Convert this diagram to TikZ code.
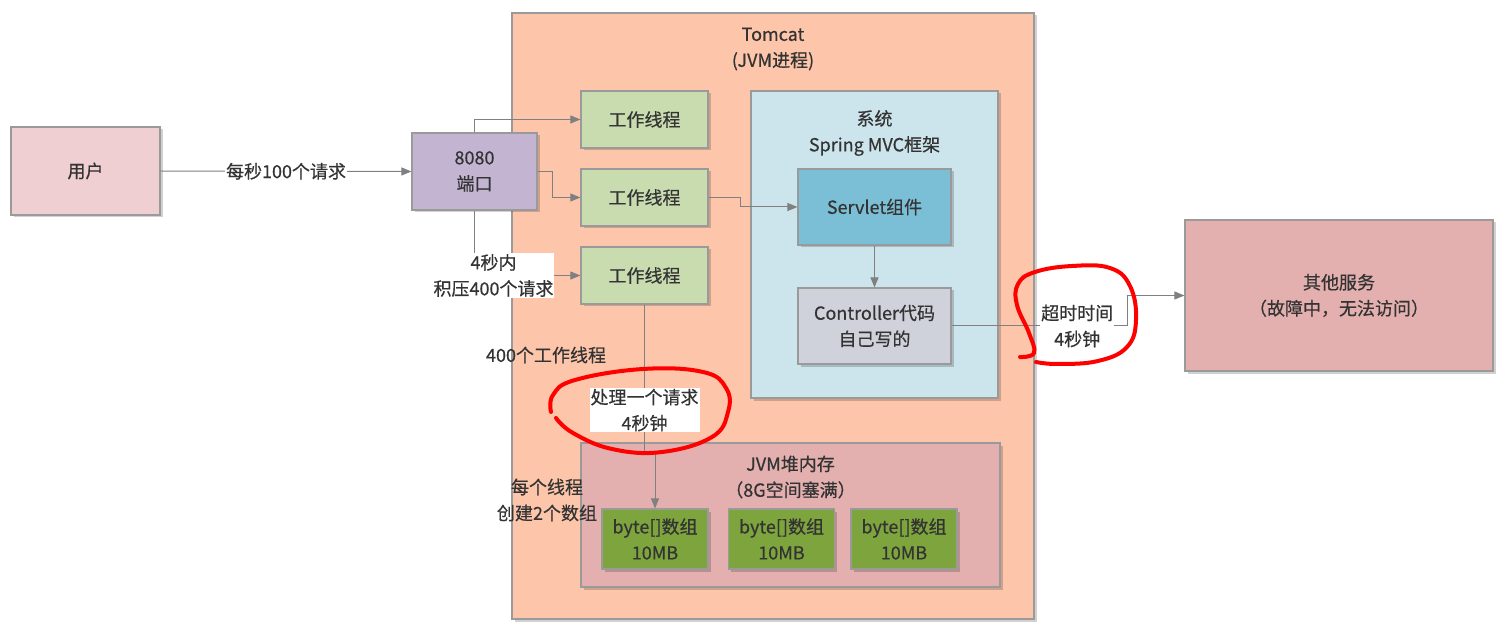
\documentclass[tikz,border=0pt]{standalone}
\usepackage{fontspec}
\newfontfamily\cjk[FakeBold=0.5]{Noto Sans CJK SC}
\usetikzlibrary{arrows.meta,shadows}
\definecolor{tomcatc}{HTML}{FDC5A9}
\definecolor{userc}{HTML}{EFCFD1}
\definecolor{portc}{HTML}{C3B5D1}
\definecolor{workc}{HTML}{C8DCB0}
\definecolor{sysc}{HTML}{CCE4EC}
\definecolor{servc}{HTML}{7BBFD6}
\definecolor{ctrlc}{HTML}{CFD2DA}
\definecolor{otherc}{HTML}{E4AFAF}
\definecolor{heapc}{HTML}{E3B0AF}
\definecolor{bytec}{HTML}{7EA53D}
\definecolor{borderc}{HTML}{9A9A9A}
\definecolor{linec}{HTML}{808080}
\definecolor{txtc}{HTML}{333333}
\tikzset{
  box/.style={draw=borderc, line width=1.2pt, rectangle, inner sep=0pt, align=center,
    text=txtc, font=\cjk\fontsize{18}{26}\selectfont,
    drop shadow={shadow xshift=2.5pt, shadow yshift=-2.5pt, opacity=0.18, fill=black}},
  txt/.style={text=txtc, align=center, inner sep=1pt, font=\cjk\fontsize{18}{26}\selectfont},
  lbl/.style={txt, fill=white},
  arr/.style={draw=linec, line width=1pt, -{Triangle[length=10pt,width=8pt]}},
  red/.style={draw=red, line width=4pt, line cap=round, line join=round}
}
\begin{document}
\begin{tikzpicture}[x=1pt,y=-1pt]
\useasboundingbox (0,0) rectangle (1505,628);
% containers
\node[box, fill=tomcatc, minimum width=522pt, minimum height=606pt] (tomcat) at (773,316) {};
\node[txt] (tomcattitle) at (773,49) {Tomcat\\(JVM进程)};
\node[box, fill=sysc, minimum width=247pt, minimum height=307pt] (sys) at (874.5,244.5) {};
\node[txt] (systitle) at (874.5,133) {系统\\Spring MVC框架};
\node[box, fill=heapc, minimum width=419pt, minimum height=144pt] (heap) at (790.5,515) {};
\node[txt] (heaptitle) at (790.5,477) {JVM堆内存\\（8G空间塞满）};
% nodes
\node[box, fill=userc, minimum width=149pt, minimum height=88pt] (user) at (85.5,171) {用户};
\node[box, fill=portc, minimum width=125pt, minimum height=77pt] (port) at (474.5,171.5) {8080\\端口};
\node[box, fill=workc, minimum width=127pt, minimum height=57pt] (w1) at (644.5,119.5) {工作线程};
\node[box, fill=workc, minimum width=127pt, minimum height=57pt] (w2) at (644.5,197.5) {工作线程};
\node[box, fill=workc, minimum width=127pt, minimum height=57pt] (w3) at (644.5,275.5) {工作线程};
\node[box, fill=servc, minimum width=153pt, minimum height=76pt] (servlet) at (874.5,207) {Servlet组件};
\node[box, fill=ctrlc, minimum width=153pt, minimum height=76pt] (ctrl) at (874.5,326) {Controller代码\\自己写的};
\node[box, fill=otherc, minimum width=308pt, minimum height=151pt] (other) at (1339,295.5) {其他服务\\（故障中，无法访问）};
\node[box, fill=bytec, minimum width=106pt, minimum height=60pt] (b1) at (655,539) {byte[]数组\\10MB};
\node[box, fill=bytec, minimum width=106pt, minimum height=60pt] (b2) at (781.5,539) {byte[]数组\\10MB};
\node[box, fill=bytec, minimum width=106pt, minimum height=60pt] (b3) at (904,539) {byte[]数组\\10MB};
% connectors
\draw[arr] (user.east) -- node[lbl] {每秒100个请求} (port.west);
\draw[arr] (port.north) |- (w1.west);
\draw[arr] (port.east) -- ++(15,0) |- (w2.west);
\draw[arr] (port.south) |- node[lbl, pos=0.5, xshift=19pt] {4秒内\\积压400个请求} (w3.west);
\draw[arr] (w2.east) -- ++(32,0) |- (servlet.west);
\draw[arr] (servlet.south) -- (ctrl.north);
\coordinate (tcorner) at (1127,326);
\draw[arr] (ctrl.east) -- node[lbl, pos=0.716] {超时时间\\4秒钟} (tcorner) |- (other.west);
\coordinate (wjog) at (644.5,452);
\draw[arr] (w3.south) -- node[lbl, pos=0.716] {处理一个请求\\4秒钟} (wjog) -| (b1.north);
% annotations
\node[txt] (n400) at (546,355) {400个工作线程};
\node[txt] (nper) at (547,500) {每个线程\\创建2个数组};
% red hand-drawn marks
\draw[red] plot[smooth, tension=0.7] coordinates {(551,412) (553,395) (575,380) (643,369) (703,372) (726,388) (728,412) (712,437) (662,452) (612,449) (573,433) (556,418)};
\draw[red] plot[smooth, tension=0.7] coordinates {(1020,357) (1034,353) (1029,333) (1017,305) (1018,284) (1035,272) (1072,266) (1110,268) (1130,286) (1136,320) (1127,347) (1098,361) (1058,364) (1036,362)};
\end{tikzpicture}
\end{document}
